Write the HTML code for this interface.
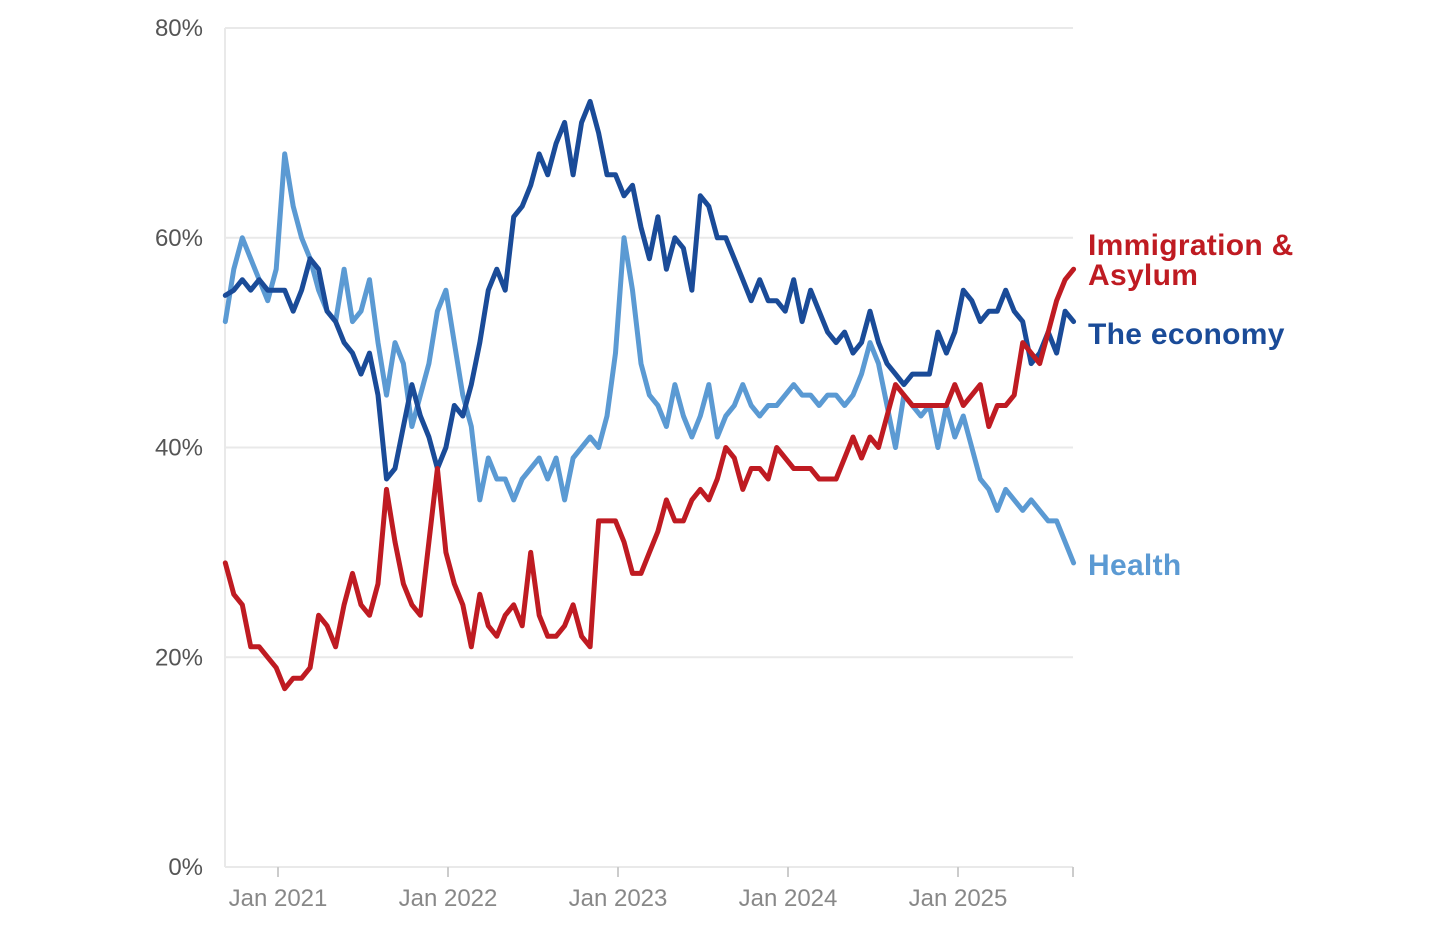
<!DOCTYPE html>
<html><head><meta charset="utf-8"><style>
body{margin:0;background:#fff;}
svg{display:block;font-family:"Liberation Sans",sans-serif;}
</style></head><body>
<svg id="chart" width="1448" height="936"></svg>
<script>
const yTicks=[0,20,40,60,80];
const yTickLabels=["0%","20%","40%","60%","80%"];
const xTickYears=[2021,2022,2023,2024,2025];
const xTickLabels=["Jan 2021","Jan 2022","Jan 2023","Jan 2024","Jan 2025"];
const startYear=2020.69, endYear=2025.68;
const economy=[54.5,55,56,55,56,55,55,55,53,55,58,57,53,52,50,49,47,49,45,37,38,42,46,43,41,38,40,44,43,46,50,55,57,55,62,63,65,68,66,69,71,66,71,73,70,66,66,64,65,61,58,62,57,60,59,55,64,63,60,60,58,56,54,56,54,54,53,56,52,55,53,51,50,51,49,50,53,50,48,47,46,47,47,47,51,49,51,55,54,52,53,53,55,53,52,48,49,51,49,53,52];
const health=[52,57,60,58,56,54,57,68,63,60,58,55,53,52,57,52,53,56,50,45,50,48,42,45,48,53,55,50,45,42,35,39,37,37,35,37,38,39,37,39,35,39,40,41,40,43,49,60,55,48,45,44,42,46,43,41,43,46,41,43,44,46,44,43,44,44,45,46,45,45,44,45,45,44,45,47,50,48,44,40,45,44,43,44,40,44,41,43,40,37,36,34,36,35,34,35,34,33,33,31,29];
const immigration=[29,26,25,21,21,20,19,17,18,18,19,24,23,21,25,28,25,24,27,36,31,27,25,24,31,38,30,27,25,21,26,23,22,24,25,23,30,24,22,22,23,25,22,21,33,33,33,31,28,28,30,32,35,33,33,35,36,35,37,40,39,36,38,38,37,40,39,38,38,38,37,37,37,39,41,39,41,40,43,46,45,44,44,44,44,44,46,44,45,46,42,44,44,45,50,49,48,51,54,56,57];

const NS="http://www.w3.org/2000/svg";
const svg=document.getElementById('chart');
const X0=225,X1=1073,Y0=867,Y80=28;
const xYear=yr=>278+(yr-2021)*170;
const yScale=v=>Y0-(v/80)*(Y0-Y80);
function mk(t,a){const e=document.createElementNS(NS,t);for(const k in a)e.setAttribute(k,a[k]);svg.appendChild(e);return e;}

yTicks.forEach((v,i)=>{
  const g=mk('line',{x1:X0,x2:X1,y1:yScale(v),y2:yScale(v),stroke:'#e9e9e9','stroke-width':2});
  
  
  const t=mk('text',{x:203,y:yScale(v)+8,'text-anchor':'end','font-size':24,fill:'#555'});
  t.textContent=yTickLabels[i];
  
  
});
const ax=mk('line',{x1:X0,x2:X0,y1:Y80,y2:Y0,stroke:'#e9e9e9','stroke-width':2});


xTickYears.forEach((yr,i)=>{
  const x=xYear(yr);
  const l=mk('line',{x1:x,x2:x,y1:Y0,y2:Y0+10,stroke:'#ccc','stroke-width':2});
  
  
  const t=mk('text',{x:x,y:906,'text-anchor':'middle','font-size':24,fill:'#888'});
  t.textContent=xTickLabels[i];
  
  
});
const endTick=mk('line',{x1:X1,x2:X1,y1:Y0,y2:Y0+10,stroke:'#ccc','stroke-width':2});



function series(data,color,name){
  const n=data.length;
  const pts=data.map((v,i)=>{const yr=startYear+i*(endYear-startYear)/(n-1);return xYear(yr).toFixed(1)+','+yScale(v).toFixed(1);}).join(' ');
  const p=mk('polyline',{points:pts,fill:'none',stroke:color,'stroke-width':5,'stroke-linejoin':'round','stroke-linecap':'round'});
  
  
}
series(health,'#5b9ad3','health-line');
series(economy,'#1a4b98','economy-line');
series(immigration,'#bf1b22','immigration-line');

function label(lines,y,color,name){
  const t=mk('text',{x:1088,y:y,'font-size':30,fill:color,'font-weight':'bold','letter-spacing':0.3});
  lines.forEach((s,i)=>{const ts=document.createElementNS(NS,'tspan');ts.setAttribute('x',1088);ts.setAttribute('dy',i?30:0);ts.textContent=s;t.appendChild(ts);});
  
  
}
label(['Immigration &','Asylum'],255,'#bf1b22','immigration-label');
label(['The economy'],344,'#1a4b98','economy-label');
label(['Health'],575,'#5b9ad3','health-label');
</script>
</body></html>
